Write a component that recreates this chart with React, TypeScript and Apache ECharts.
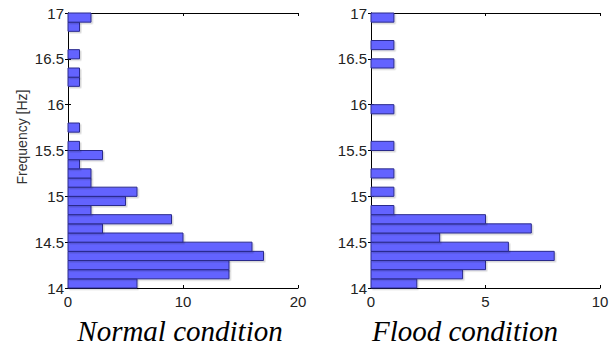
import React, { useEffect, useRef } from "react";
import * as echarts from "echarts";

// Bin lower edges (Hz), bin width 0.1
const binStarts: number[] = [
  14.0, 14.1, 14.2, 14.3, 14.4, 14.5, 14.6, 14.7, 14.8, 14.9,
  15.0, 15.1, 15.2, 15.3, 15.4, 15.5, 15.6, 15.7, 15.8, 15.9,
  16.0, 16.1, 16.2, 16.3, 16.4, 16.5, 16.6, 16.7, 16.8, 16.9,
];
const binWidth = 0.1;

const normalCounts: number[] = [
  6, 14, 14, 17, 16, 10, 3, 9, 2, 5,
  6, 2, 2, 1, 3, 1, 0, 1, 0, 0,
  0, 0, 1, 1, 0, 1, 0, 0, 1, 2,
];

const floodCounts: number[] = [
  2, 4, 5, 8, 6, 3, 7, 5, 1, 0,
  1, 0, 1, 0, 0, 1, 0, 0, 0, 1,
  0, 0, 0, 0, 1, 0, 1, 0, 0, 1,
];

const yTicks = { min: 14, max: 17, interval: 0.5 };
const normalX = { min: 0, max: 20, interval: 10 };
const floodX = { min: 0, max: 10, interval: 5 };

const titles = ["Normal condition", "Flood condition"];
const yLabel = "Frequency [Hz]";

const labelFont = "'Liberation Sans', Arial, sans-serif";

function makeData(counts: number[]) {
  return binStarts.map((s, i) => [s, counts[i]]).filter((d) => d[1] > 0);
}

const renderBar = (_params: any, api: any) => {
  const lo = api.value(0);
  const v = api.value(1);
  const p0 = api.coord([0, lo + binWidth]);
  const p1 = api.coord([v, lo]);
  return {
    type: "rect",
    shape: { x: p0[0], y: p0[1], width: p1[0] - p0[0], height: p1[1] - p0[1] },
    style: {
      fill: "#6464ff",
      stroke: "#2a2a8c",
      lineWidth: 1,
      shadowColor: "rgba(0,0,0,0.15)",
      shadowOffsetX: 1.5,
      shadowOffsetY: 1.5,
      shadowBlur: 0,
    },
  };
};

function xAxisPair(gridIndex: number, r: { min: number; max: number; interval: number }) {
  const common = {
    gridIndex,
    type: "value",
    min: r.min,
    max: r.max,
    interval: r.interval,
    splitLine: { show: false },
    axisLine: { show: true, lineStyle: { color: "#000", width: 1 } },
    axisTick: { show: true, inside: true, length: 3, lineStyle: { color: "#000" } },
  };
  return [
    {
      ...common,
      position: "bottom",
      axisLabel: { show: true, fontSize: 15, color: "#222", fontFamily: labelFont, margin: 6 },
    },
    { ...common, position: "top", axisLabel: { show: false } },
  ];
}

function yAxisPair(gridIndex: number) {
  const common = {
    gridIndex,
    type: "value",
    min: yTicks.min,
    max: yTicks.max,
    interval: yTicks.interval,
    splitLine: { show: false },
    axisLine: { show: true, lineStyle: { color: "#000", width: 1 } },
    axisTick: { show: true, inside: true, length: 3, lineStyle: { color: "#000" } },
  };
  return [
    {
      ...common,
      position: "left",
      axisLabel: { show: true, fontSize: 15, color: "#222", fontFamily: labelFont, margin: 4 },
    },
    { ...common, position: "right", axisLabel: { show: false } },
  ];
}

export default function App() {
  const ref = useRef<HTMLDivElement>(null);
  useEffect(() => {
    if (!ref.current) return;
    const chart = echarts.init(ref.current, null, { renderer: "svg" });
    chart.setOption({
      animation: false,
      backgroundColor: "#fff",
      grid: [
        { left: 68, top: 13, width: 230, height: 275 },
        { left: 371, top: 13, width: 229, height: 275 },
      ],
      xAxis: [...xAxisPair(0, normalX), ...xAxisPair(1, floodX)],
      yAxis: [...yAxisPair(0), ...yAxisPair(1)],
      series: [
        {
          type: "custom",
          xAxisIndex: 0,
          yAxisIndex: 0,
          renderItem: renderBar,
          encode: { x: 1, y: 0 },
          data: makeData(normalCounts),
        },
        {
          type: "custom",
          xAxisIndex: 2,
          yAxisIndex: 2,
          renderItem: renderBar,
          encode: { x: 1, y: 0 },
          data: makeData(floodCounts),
        },
      ],
      graphic: [
        {
          type: "text",
          x: 180,
          y: 331,
          style: {
            text: titles[0],
            font: "italic 29px 'Liberation Serif', 'Times New Roman', serif",
            fill: "#000",
            align: "center",
            verticalAlign: "middle",
          },
        },
        {
          type: "text",
          x: 465,
          y: 331,
          style: {
            text: titles[1],
            font: "italic 29px 'Liberation Serif', 'Times New Roman', serif",
            fill: "#000",
            align: "center",
            verticalAlign: "middle",
          },
        },
        {
          type: "text",
          x: 22,
          y: 137,
          rotation: Math.PI / 2,
          style: {
            text: yLabel,
            font: `14px ${labelFont}`,
            fill: "#333",
            align: "center",
            verticalAlign: "middle",
          },
        },
      ],
    });
    return () => chart.dispose();
  }, []);
  return <div ref={ref} style={{ width: 616, height: 350, position: "absolute", left: 0, top: 0 }} />;
}
